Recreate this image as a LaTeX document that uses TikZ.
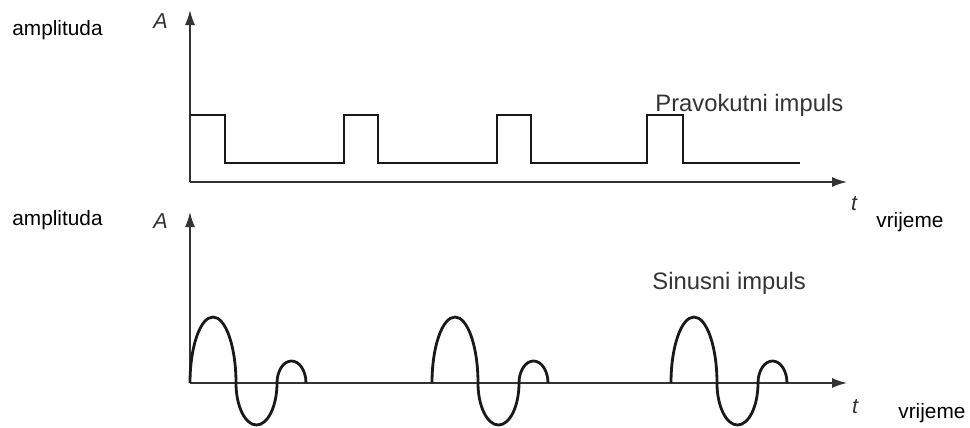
\documentclass[tikz,border=0pt]{standalone}
\usepackage{fontspec}
\setmainfont{Liberation Sans}
\usetikzlibrary{arrows.meta}
\definecolor{axisgray}{gray}{0.2}

\tikzset{
    axis/.style={draw=axisgray, line width=0.8pt, -{Latex[length=7.5pt,width=5pt]}},
    wave/.style={draw=black!90, line width=1.4pt, line join=miter},
    word/.style={inner sep=0pt, anchor=base west, font=\fontsize{10.4}{12}\selectfont},
    caption/.style={inner sep=0pt, anchor=base west, text=axisgray, font=\fontsize{11.9}{14}\selectfont},
    axlabel/.style={inner sep=0pt, anchor=base, text=axisgray, font=\fontsize{10.8}{12}\selectfont\itshape}
}

\begin{document}
\begin{tikzpicture}[x=0.5pt, y=-0.5pt]
    \useasboundingbox (0,0) rectangle (970,428);

    % upper diagram
    \coordinate (O1) at (190,182);
    \coordinate (Y1) at (190,10);
    \coordinate (X1) at (847,182);
    \draw[axis] (O1) -- (Y1);
    \draw[axis] (O1) -- (X1);
    \draw[wave] (190,115) -- (225,115) -- (225,163) -- (344,163) -- (344,115)
        -- (378,115) -- (378,163) -- (497,163) -- (497,115) -- (531,115)
        -- (531,163) -- (647,163) -- (647,115) -- (683,115) -- (683,163) -- (800,163);

    \node[word] (amp1) at (12,35) {amplituda};
    \node[axlabel] (A1) at (160.5,28) {A};
    \node[axlabel] (t1) at (854,210) {t};
    \node[word] (vr1) at (876,227) {vrijeme};
    \node[caption] (rect) at (655,112) {Pravokutni impuls};

    % lower diagram
    \coordinate (O2) at (190,383);
    \coordinate (Y2) at (190,212);
    \coordinate (X2) at (847,383);
    \draw[axis] (O2) -- (Y2);
    \draw[axis] (O2) -- (X2);
    \foreach \s in {190,432,671}
        \draw[wave] (\s,383) arc[start angle=180, end angle=0, x radius=11.5pt, y radius=33pt]
            arc[start angle=180, end angle=360, x radius=10.25pt, y radius=21pt]
            arc[start angle=180, end angle=0, x radius=7.25pt, y radius=11pt];

    \node[word] (amp2) at (12,225) {amplituda};
    \node[axlabel] (A2) at (160.5,228) {A};
    \node[axlabel] (t2) at (855,413) {t};
    \node[word] (vr2) at (898,418) {vrijeme};
    \node[caption] (sine) at (652,289) {Sinusni impuls};
\end{tikzpicture}
\end{document}
